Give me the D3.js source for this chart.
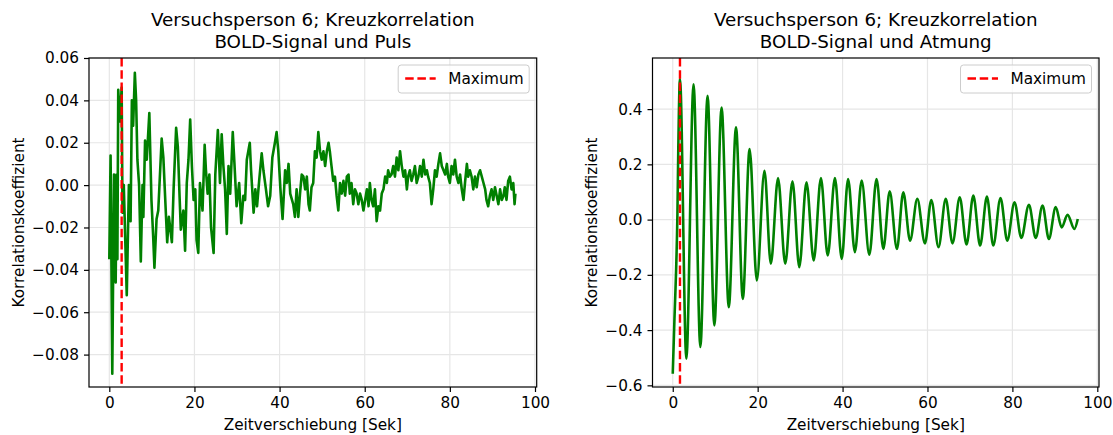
<!DOCTYPE html>
<html><head><meta charset="utf-8">
<script src="https://cdn.jsdelivr.net/npm/d3@7"></script>
<style>
body{margin:0;background:#fff;}
svg{display:block;font-family:"DejaVu Sans",sans-serif;}
</style></head>
<body>
<svg id="chart" width="1113" height="435"></svg>
<script>
// ---------- DATA ----------
const titlesPuls = ["Versuchsperson 6; Kreuzkorrelation", "BOLD-Signal und Puls"];
const titlesAtmung = ["Versuchsperson 6; Kreuzkorrelation", "BOLD-Signal und Atmung"];
const xLabel = "Zeitverschiebung [Sek]";
const yLabel = "Korrelationskoeffizient";
const legendLabel = "Maximum";
const xTicks = [0, 20, 40, 60, 80, 100];
const yTicksPuls = [-0.08, -0.06, -0.04, -0.02, 0.00, 0.02, 0.04, 0.06];
const yTicksAtmung = [-0.6, -0.4, -0.2, 0.0, 0.2, 0.4];
const xDomain = [-4.77, 100.4];
const yDomainPuls = [-0.0953, 0.0600];
const yDomainAtmung = [-0.606, 0.585];
const maxLagPuls = 2.9;
const maxLagAtmung = 1.7;

// Puls: lag (s) and correlation
const lagsPuls = [0.0,0.3,0.7,1.1,1.5,1.7,1.9,2.1,2.5,2.9,3.1,3.4,4.1,4.6,5.0,5.3,5.6,6.0,6.3,6.6,7.0,7.4,7.8,8.0,8.4,8.8,9.4,9.9,10.3,10.6,11.1,11.5,12.3,12.7,13.1,13.6,14.0,14.7,15.1,15.7,16.1,16.5,16.8,17.4,17.8,18.2,18.6,19.0,19.4,19.8,20.2,20.5,20.9,21.3,21.9,22.4,22.7,23.1,23.5,23.9,24.5,24.9,25.5,26.0,26.4,26.8,27.2,27.6,28.0,28.4,29.0,29.4,29.9,30.5,31.0,31.5,31.9,32.3,33.0,33.3,33.9,34.3,34.7,35.2,35.8,36.2,36.8,37.3,37.8,38.3,38.9,39.3,39.7,40.2,40.7,41.3,41.7,42.1,42.5,43.2,43.6,44.0,44.4,44.8,45.2,45.6,46.0,46.4,46.8,47.1,47.5,47.9,48.3,48.7,49.1,49.5,49.9,50.3,50.7,51.1,51.5,51.8,52.2,52.6,53.0,53.4,53.8,54.2,54.6,55.0,55.4,55.8,56.2,56.5,56.9,57.3,57.7,58.1,58.5,58.9,59.3,59.7,60.1,60.5,60.9,61.2,61.6,62.0,62.4,62.8,63.2,63.6,64.0,64.4,64.8,65.2,65.5,65.9,66.3,66.7,67.1,67.5,67.9,68.3,68.7,69.1,69.5,69.9,70.2,70.6,71.0,71.4,71.8,72.2,72.6,73.0,73.4,73.8,74.2,74.6,74.9,75.3,75.7,76.1,76.5,76.9,77.3,77.7,78.1,78.5,78.9,79.3,79.6,80.0,80.4,80.8,81.2,81.6,82.0,82.4,82.8,83.2,83.6,84.0,84.3,84.7,85.1,85.5,85.9,86.3,86.7,87.1,87.5,87.9,88.3,88.6,89.0,89.4,89.8,90.2,90.6,91.0,91.4,91.8,92.2,92.6,92.9,93.3,93.7,94.1,94.5,94.9,95.2,95.4];
const corrPuls = [-0.035,0.014,-0.089,0.005,-0.046,0.005,-0.035,0.045,0.030,0.046,-0.013,0.000,-0.052,0.000,-0.017,0.040,0.028,0.053,0.040,0.012,0.000,-0.036,0.000,-0.015,0.021,0.012,0.034,-0.007,-0.024,-0.039,-0.016,-0.012,0.022,0.013,-0.005,-0.027,-0.015,-0.027,-0.002,0.027,0.018,-0.005,-0.021,-0.012,-0.031,0.001,0.012,0.031,0.009,-0.007,-0.002,-0.026,-0.032,0.001,-0.012,0.019,0.007,-0.004,0.005,-0.020,-0.032,0.005,0.026,0.001,0.024,0.009,-0.002,-0.023,0.009,-0.004,0.025,0.010,-0.010,0.001,-0.018,-0.005,-0.007,0.012,0.020,0.007,-0.013,-0.002,-0.010,0.002,0.015,0.007,-0.002,-0.010,-0.005,0.013,0.020,0.025,0.016,-0.002,-0.016,0.007,0.001,0.010,-0.004,-0.009,-0.015,-0.002,-0.015,-0.004,0.005,0.004,-0.002,0.004,-0.009,-0.012,-0.001,0.001,0.016,0.013,0.025,0.016,0.012,0.016,0.009,0.016,0.020,0.016,0.009,0.002,0.004,-0.005,-0.012,0.001,-0.004,0.002,-0.005,0.004,0.005,-0.004,0.001,-0.009,-0.002,-0.004,-0.009,-0.004,-0.007,-0.012,-0.007,-0.002,-0.010,0.001,-0.007,-0.010,-0.002,-0.017,-0.010,-0.012,-0.004,-0.002,0.004,0.001,0.007,0.004,0.005,0.009,0.004,0.013,0.007,0.016,0.009,0.004,0.007,-0.002,0.004,0.007,0.002,0.005,0.009,0.001,0.004,0.009,0.004,0.012,0.005,0.007,0.004,0.001,-0.009,-0.002,0.007,0.004,0.010,0.015,0.009,0.007,0.005,0.010,0.004,0.001,0.009,0.005,0.012,0.004,0.001,0.005,-0.002,-0.007,0.002,0.010,0.004,0.007,0.004,-0.002,0.004,-0.001,0.005,0.007,0.004,0.001,-0.002,-0.007,-0.010,-0.005,-0.002,-0.007,-0.001,-0.005,-0.009,-0.002,-0.007,-0.005,-0.001,-0.007,0.002,0.004,-0.002,0.001,-0.009,-0.004];

// Atmung: lag (s) and correlation (extrema of the oscillation)
const lagsAtmung = [0.0,0.4,0.8,1.1,1.3,1.7,3.2,4.9,6.5,8.2,9.8,11.5,13.2,14.9,16.5,18.1,19.8,21.6,23.1,24.8,26.5,28.2,29.8,31.5,33.2,34.9,36.5,38.2,39.8,41.3,42.9,44.5,46.3,48.0,49.6,51.1,52.8,54.3,55.9,57.6,59.4,60.9,62.6,64.3,65.9,67.6,69.2,70.8,72.4,74.0,75.5,77.2,78.8,80.5,82.1,83.9,85.5,87.1,88.6,90.2,91.6,93.0,94.6,95.4];
const corrAtmung = [-0.558,-0.36,-0.18,0.02,0.25,0.510,-0.504,0.490,-0.461,0.448,-0.383,0.406,-0.317,0.334,-0.287,0.255,-0.220,0.177,-0.160,0.150,-0.160,0.139,-0.172,0.135,-0.148,0.150,-0.130,0.150,-0.142,0.147,-0.118,0.141,-0.127,0.147,-0.106,0.102,-0.106,0.099,-0.076,0.075,-0.086,0.071,-0.100,0.075,-0.086,0.081,-0.090,0.087,-0.094,0.083,-0.094,0.078,-0.076,0.063,-0.066,0.054,-0.066,0.051,-0.070,0.045,-0.028,0.017,-0.034,0.002];

// ---------- DRAW ----------
const svg = d3.select("#chart");
const FONT = 15.3;

function panel(cfg) {
  const {left, right, top, bottom} = cfg;
  const g = svg.append("g");
  const x = d3.scaleLinear().domain(xDomain).range([left, right]);
  const y = d3.scaleLinear().domain(cfg.yDomain).range([bottom, top]);
  const clipId = "clip" + cfg.id;
  svg.append("clipPath").attr("id", clipId).append("rect")
    .attr("x", left).attr("y", top).attr("width", right - left).attr("height", bottom - top);

  // grid
  g.append("g").selectAll("line").data(xTicks).join("line")
    .attr("x1", d => x(d)).attr("x2", d => x(d)).attr("y1", top).attr("y2", bottom)
    .attr("stroke", "#e6e6e6").attr("stroke-width", 1.2);
  g.append("g").selectAll("line").data(cfg.yTicks).join("line")
    .attr("y1", d => y(d)).attr("y2", d => y(d)).attr("x1", left).attr("x2", right)
    .attr("stroke", "#e6e6e6").attr("stroke-width", 1.2);

  // data line
  const line = d3.line().x(d => x(d[0])).y(d => y(d[1])).curve(cfg.curve);
  g.append("path").datum(d3.zip(cfg.lags, cfg.vals))
    .attr("clip-path", `url(#${clipId})`)
    .attr("d", line).attr("fill", "none").attr("stroke", "#008000")
    .attr("stroke-width", 2.6).attr("stroke-linejoin", "round");

  // maximum line
  g.append("line").attr("clip-path", `url(#${clipId})`)
    .attr("x1", x(cfg.maxLag)).attr("x2", x(cfg.maxLag)).attr("y1", top).attr("y2", bottom)
    .attr("stroke", "#ff0000").attr("stroke-width", 2.4).attr("stroke-dasharray", "8.5,3.7");

  // axes
  const xAxis = d3.axisBottom(x).tickValues(xTicks).tickFormat(d3.format("d")).tickSize(5).tickPadding(5);
  const minus = s => s.replace("-", "\u2212");
  const yAxis = d3.axisLeft(y).tickValues(cfg.yTicks).tickFormat(d => minus(d3.format(cfg.yFmt)(d))).tickSize(5).tickPadding(5);
  const gx = g.append("g").attr("transform", `translate(0,${bottom})`).call(xAxis);
  const gy = g.append("g").attr("transform", `translate(${left},0)`).call(yAxis);
  [gx, gy].forEach(a => {
    a.select(".domain").remove();
    a.selectAll(".tick line").attr("stroke", "#000").attr("stroke-width", 1.2);
    a.selectAll(".tick text").attr("fill", "#000").style("font-size", FONT + "px").style("font-family", "DejaVu Sans");
  });

  // spines
  g.append("rect").attr("x", left).attr("y", top).attr("width", right - left).attr("height", bottom - top)
    .attr("fill", "none").attr("stroke", "#000").attr("stroke-width", 1.2);

  // titles
  const cx = (left + right) / 2;
  cfg.titles.forEach((t, i) => {
    g.append("text").attr("x", cx).attr("y", 26 + i * 22).attr("text-anchor", "middle")
      .style("font-size", "18.3px").attr("fill", "#000").text(t);
  });
  // x label
  g.append("text").attr("x", cx).attr("y", 430).attr("text-anchor", "middle")
    .style("font-size", FONT + "px").attr("fill", "#000").text(xLabel);
  // y label
  g.append("text").attr("transform", `translate(${cfg.yLabelX},${(top + bottom) / 2}) rotate(-90)`)
    .attr("text-anchor", "middle").style("font-size", FONT + "px").attr("fill", "#000").text(yLabel);

  // legend
  const lg = g.append("g");
  const lx = right - 138.5, ly = top + 7;
  lg.append("rect").attr("x", lx).attr("y", ly).attr("width", 131).attr("height", 28).attr("rx", 3)
    .attr("fill", "#fff").attr("fill-opacity", 0.8).attr("stroke", "#cccccc").attr("stroke-width", 1);
  lg.append("line").attr("x1", lx + 7).attr("x2", lx + 37.5).attr("y1", ly + 13.5).attr("y2", ly + 13.5)
    .attr("stroke", "#ff0000").attr("stroke-width", 2.4).attr("stroke-dasharray", "8.5,3.7");
  lg.append("text").attr("x", lx + 50).attr("y", ly + 19).style("font-size", FONT + "px").attr("fill", "#000").text(legendLabel);
}

panel({id: "p", left: 89, right: 536.7, top: 58, bottom: 387, yDomain: yDomainPuls, yTicks: yTicksPuls, yFmt: ".2f",
  lags: lagsPuls, vals: corrPuls, maxLag: maxLagPuls, titles: titlesPuls, yLabelX: 24, curve: d3.curveLinear});
panel({id: "a", left: 652.5, right: 1099, top: 58, bottom: 387, yDomain: yDomainAtmung, yTicks: yTicksAtmung, yFmt: ".1f",
  lags: lagsAtmung, vals: corrAtmung, maxLag: maxLagAtmung, titles: titlesAtmung, yLabelX: 597, curve: d3.curveMonotoneX});
</script>
</body></html>
